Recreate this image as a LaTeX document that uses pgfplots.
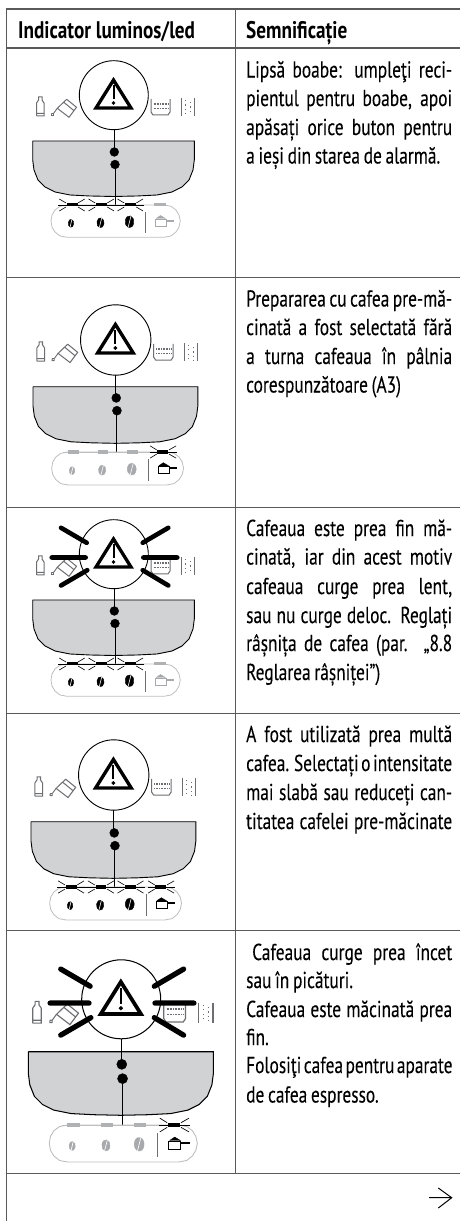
\documentclass[border=0pt]{standalone}
\usepackage{pgfplots}
\pgfplotsset{compat=1.18,unbounded coords=jump}
\usepackage{fontspec}
\setmainfont[FakeStretch=0.755,WordSpace=0.8,FakeBold=0.12]{PT Sans}
\newfontfamily\hdr[FakeStretch=0.8]{PT Sans}
\definecolor{bowl}{HTML}{D1D2D4}
\definecolor{rule}{HTML}{5A5A5A}
\definecolor{icon}{HTML}{6D6E71}
\definecolor{pill}{HTML}{BDBEC0}
\definecolor{ledoff}{HTML}{B0B1B3}
\definecolor{beanoff}{HTML}{A7A9AC}
\newcommand{\J}[2]{\node[anchor=base west,inner sep=0pt] at (axis cs:246,#1) {\fontsize{23}{23}\selectfont\makebox[206pt][s]{#2}};}
\newcommand{\T}[2]{\node[anchor=base west,inner sep=0pt] at (axis cs:246,#1) {\fontsize{23}{23}\selectfont #2};}
% ---- icon parts, in the pixel coordinates of the first row
\newcommand{\SideIcons}{%
 \addplot[icon,line width=\s*1pt,mark=none] coordinates {(36.5,116)(36.5,103)(38.6,100)(38.6,97)(42,97)(42,100)(44,103)(44,116)(36.5,116)(nan,nan) (36.5,113.5)(44,113.5)};
 \addplot[icon,line width=\s*1pt,mark=none] coordinates {(66.7,99.3)(76.5,107.3)(69,117.3)(57.3,108.3)(66.7,99.3)(nan,nan) (64,102.5)(73.8,110.5)};
 \addplot[icon,line width=\s*0.9pt,mark=none] coordinates {(51.5,113.5)(53.5,113.5)(53.5,115.5)(51.5,115.5)(51.5,113.5)(nan,nan) (53.5,113.5)(57.3,108.3)};
 \addplot[icon,line width=\s*1pt,mark=none] coordinates {(151,99)(151,112)(153,115)(168,115)(170,112)(170,99)};
 \addplot[icon,line width=\s*1.6pt,dash pattern=on 1pt off 0.6pt,mark=none] coordinates {(153.5,104)(168,104)(nan,nan) (153.5,108.5)(168,108.5)};
 \addplot[icon,line width=\s*1pt,mark=none] coordinates {(181.5,98)(181.5,116)(nan,nan) (194,98)(194,116)};
 \addplot[icon,line width=\s*1pt,dash pattern=on 1.2pt off 3.2pt,mark=none] coordinates {(185.5,100)(185.5,114)(nan,nan) (190,102)(190,115)};
}
\newcommand{\Bowl}{%
 \addplot[fill=bowl,draw=black,line width=\s*0.9pt,mark=none] coordinates {(32.7,141)(194.3,141)(194.3,160)(193,170)(189,180)(182,187)(172,192)(157,195)(137,196)(113.5,196.5)(90,196)(70,195)(55,192)(45,187)(38,180)(34,170)(32.7,160)(32.7,141)};
 \addplot[black,line width=\s*0.9pt,mark=none] coordinates {(114,129)(114,152)(nan,nan) (115,164.5)(115,205)};
 \addplot[only marks,mark=*,mark size=\s*4.4,mark options={fill=black,draw=black}] coordinates {(114.3,152)(115,164.5)};
}
\newcommand{\Circle}{%
 \addplot[only marks,mark=*,mark size=\s*34.5,mark options={fill=white,draw=black,line width=\s*0.9pt}] coordinates {(113.8,95.2)};
}
\newcommand{\Warn}{%
 \addplot[fill=white,draw=black,line width=\s*3.3pt,line join=miter,mark=none] coordinates {(113.5,80)(96,108)(131,108)(113.5,80)(96,108)};
 \addplot[black,line width=\s*2pt,mark=none] coordinates {(113.5,85.5)(113.5,99)};
 \addplot[only marks,mark=*,mark size=\s*1.7,mark options={fill=black,draw=black}] coordinates {(113.5,103)};
}
\newcommand{\BigRays}{%
 \addplot[black,line width=\s*4.6pt,line cap=round,mark=none] coordinates {(61,68.8)(86.7,83.8)(nan,nan) (168.3,68.8)(142.7,83.8)(nan,nan) (51.7,98.5)(85.7,98.5)(nan,nan) (177.3,98.5)(143.3,98.5)(nan,nan) (61,126.5)(87.3,111.2)(nan,nan) (168.3,126.5)(142.7,111.2)};
}
\newcommand{\Pill}{%
 \addplot[pill,line width=\s*0.8pt,mark=none] coordinates {(67,205)(60,206.3)(55,210)(52,215)(51,221)(52,227)(55,232)(60,236)(67,237.3)(164,237.3)(171,236)(176,232)(179,227)(180.3,221)(179,215)(176,210)(171,206.3)(164,205)(67,205)};
 \addplot[icon,line width=\s*0.7pt,mark=none] coordinates {(145.3,212)(145.3,233)};
}
\newcommand{\Beans}[1]{%
 \addplot[only marks,mark=*,mark size=\s*4,mark options={fill=#1,draw=#1,xscale=0.68,rotate=-12}] coordinates {(71,223.3)};
 \addplot[only marks,mark=*,mark size=\s*5,mark options={fill=#1,draw=#1,xscale=0.72,rotate=-12}] coordinates {(100.5,222.8)};
 \addplot[only marks,mark=*,mark size=\s*6,mark options={fill=#1,draw=#1,xscale=0.72,rotate=-12}] coordinates {(129.5,221.8)};
}
\newcommand{\Slits}{%
 \addplot[white,line width=\s*0.6pt,mark=none] coordinates {(72,219)(70,227.5)(nan,nan) (101.8,217.6)(99.2,228)(nan,nan) (131,215.8)(128,227.8)};
}
\newcommand{\BeanLedOn}{%
 \addplot[black,line width=\s*0.7pt,mark=none] coordinates {(58.3,205)(144,205)};
 \addplot[black,line width=\s*3pt,mark=none] coordinates {(66.7,205)(77.5,205)(nan,nan) (96,205)(106.7,205)(nan,nan) (125,205)(135.7,205)};
 \addplot[black,line width=\s*0.6pt,mark=none] coordinates {(59.3,199)(66,203)(nan,nan) (84.7,199)(78,203)(nan,nan) (59.3,211)(66,207)(nan,nan) (84.7,211)(78,207)(nan,nan) (88.5,199)(95.2,203)(nan,nan) (114,199)(107.3,203)(nan,nan) (88.5,211)(95.2,207)(nan,nan) (114,211)(107.3,207)(nan,nan) (117.5,199)(124.2,203)(nan,nan) (143,199)(136.3,203)(nan,nan) (117.5,211)(124.2,207)(nan,nan) (143,211)(136.3,207)};
}
\newcommand{\BeanLedOff}{%
 \addplot[pill,line width=\s*0.6pt,mark=none] coordinates {(62,205)(150,205)};
 \addplot[ledoff,line width=\s*3pt,mark=none] coordinates {(66.7,205)(77.5,205)(nan,nan) (96,205)(106.7,205)(nan,nan) (125,205)(135.7,205)};
}
\newcommand{\ScoopLedOn}{%
 \addplot[black,line width=\s*0.7pt,mark=none] coordinates {(147,205)(174,205)};
 \addplot[black,line width=\s*3pt,mark=none] coordinates {(154.5,205)(165.5,205)};
 \addplot[black,line width=\s*0.6pt,mark=none] coordinates {(147.5,199)(154,203)(nan,nan) (173,199)(166,203)(nan,nan) (147.5,211)(154,207)(nan,nan) (173,211)(166,207)};
}
\newcommand{\ScoopLedOff}{%
 \addplot[ledoff,line width=\s*3pt,mark=none] coordinates {(153.5,205)(165.5,205)};
}
\newcommand{\Scoop}[1]{%
 \addplot[fill=white,draw=#1,line width=\s*0.9pt,mark=none] coordinates {(155.5,219)(166,219)(166,226)(155.5,226)(155.5,219)};
 \addplot[fill=#1,draw=#1,mark=none] coordinates {(156,218.5)(160.5,215.5)(165.5,218.5)(156,218.5)};
 \addplot[#1,line width=\s*2.2pt,mark=none] coordinates {(166,220.8)(174,220.8)};
}
\newcommand{\Panel}[5]{% scale, x offset, y offset, lower parts, upper parts
 \def\s{#1}%
 \pgfmathsetmacro\pw{230*#1}%
 \pgfmathsetmacro\ph{240*#1}%
 \pgfmathsetmacro\py{1221-(#3+#1*280)}%
 \begin{axis}[at={(#2pt,\py pt)},anchor=south west,scale only axis,width=\pw pt,height=\ph pt,
   xmin=0,xmax=230,ymin=40,ymax=280,y dir=reverse,hide axis,clip=false]
  \SideIcons
  \Bowl
  \Pill
  #4
  \Circle
 \end{axis}
 \begin{axis}[at={(#2pt,\py pt)},anchor=south west,scale only axis,width=\pw pt,height=\ph pt,
   xmin=0,xmax=230,ymin=40,ymax=280,y dir=reverse,hide axis,clip=false]
  \Slits
  \Warn
  #5
 \end{axis}}
\begin{document}
\begin{tikzpicture}[x=1pt,y=1pt]
\useasboundingbox (0,0) rectangle (460,1221);
\begin{axis}[at={(0pt,0pt)},anchor=south west,scale only axis,width=460pt,height=1221pt,
  xmin=0,xmax=460,ymin=0,ymax=1221,y dir=reverse,hide axis,clip=false]
 \addplot[rule,line width=1.2pt,mark=none] coordinates {(6.5,9)(6.5,1221)(nan,nan) (235.7,9)(235.7,1173.3)(nan,nan) (6,9)(460,9)(nan,nan) (6,48)(460,48)(nan,nan) (6,277.5)(460,277.5)(nan,nan) (6,507.5)(460,507.5)(nan,nan) (6,713.3)(460,713.3)(nan,nan) (6,930.7)(460,930.7)(nan,nan) (6,1173.3)(460,1173.3)};
 \addplot[black,line width=1pt,mark=none] coordinates {(429,1197.7)(451.5,1197.7)(nan,nan) (438.3,1188)(451.7,1197.7)(438.3,1208)};
 \node[anchor=base west,inner sep=0pt] at (axis cs:18,38.5) {\hdr\fontsize{24}{24}\selectfont\bfseries Indicator luminos/led};
 \node[anchor=base west,inner sep=0pt] at (axis cs:246,38.5) {\hdr\fontsize{24}{24}\selectfont\bfseries Semnificație};
 \J{77.5}{Lipsă boabe: umpleţi reci-}
 \J{106}{pientul pentru boabe, apoi}
 \J{135}{apăsați orice buton pentru}
 \T{163.5}{a ieși din starea de alarmă.}
 \J{306.5}{Prepararea cu cafea pre-mă-}
 \J{335}{cinată a fost selectată fără}
 \J{364}{a turna cafeaua în pâlnia}
 \T{392.5}{corespunzătoare (A3)}
 \J{536}{Cafeaua este prea fin mă-}
 \J{564.5}{cinată, iar din acest motiv}
 \J{594}{cafeaua curge prea lent,}
 \J{623}{sau nu curge deloc. Reglați}
 \J{651}{râșnița de cafea (par. „8.8}
 \T{680}{Reglarea râșniței”)}
 \J{742}{A fost utilizată prea multă}
 \J{771}{cafea. Selectați o intensitate}
 \J{800}{mai slabă sau reduceți can-}
 \J{829}{titatea cafelei pre-măcinate}
 \node[anchor=base west,inner sep=0pt] at (axis cs:252,960) {\fontsize{23}{23}\selectfont\makebox[200pt][s]{Cafeaua curge prea încet}};
 \T{988}{sau în picături.}
 \J{1017}{Cafeaua este măcinată prea}
 \T{1045}{fin.}
 \J{1073}{Folosiţi cafea pentru aparate}
 \T{1102.5}{de cafea espresso.}
\end{axis}
\Panel{1}{0}{0}{\BeanLedOn\ScoopLedOff\Beans{black}\Scoop{beanoff}}{}
\Panel{1.02}{-0.35}{242.9}{\BeanLedOff\ScoopLedOn\Beans{beanoff}\Scoop{black}}{}
\Panel{1}{0}{459}{\BeanLedOn\ScoopLedOff\Beans{black}\Scoop{beanoff}}{\BigRays}
\Panel{1.02}{-2.35}{677.9}{\BeanLedOn\ScoopLedOn\Beans{black}\Scoop{black}}{}
\Panel{1.145}{-9.1}{890.3}{\BeanLedOff\ScoopLedOn\Beans{beanoff}\Scoop{black}}{\BigRays}
\end{tikzpicture}
\end{document}
